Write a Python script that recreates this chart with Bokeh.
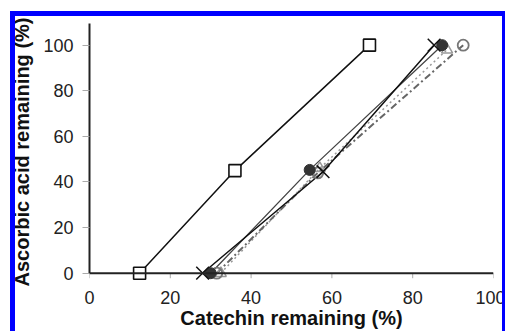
from bokeh.plotting import figure
from bokeh.models import Range1d, Span, Div
from bokeh.layouts import column
from bokeh.embed import file_html
from bokeh.resources import INLINE

# ---- data ----
x_ticks = [0, 20, 40, 60, 80, 100]
y_ticks = [0, 20, 40, 60, 80, 100]

sq_x = [12.4, 36.0, 69.3]
sq_y = [0, 45, 100]
cross_x = [28.0, 57.8, 85.3]
cross_y = [0, 44.5, 100]
dot_x = [30.0, 54.5, 87.3]
dot_y = [0, 45.3, 100]
ring_x = [31.5, 56.5, 92.5]
ring_y = [0, 44.0, 100]
tri_x = [32.5, 57.0, 88.5]
tri_y = [0, 46.0, 98.0]

FONT = "Liberation Sans"

p = figure(width=505, height=331, output_backend="svg", toolbar_location=None,
           x_range=Range1d(0, 100), y_range=Range1d(-3.2, 109.5),
           min_border_left=89, min_border_right=12, min_border_top=23,
           min_border_bottom=51)
p.grid.visible = False
p.outline_line_color = None
p.background_fill_color = "white"
p.border_fill_color = "white"

# axes
p.xaxis.ticker = x_ticks
p.yaxis.ticker = y_ticks
p.yaxis.bounds = (0, 110)
for ax in (p.xaxis[0], p.yaxis[0]):
    ax.axis_line_color = "#222222"
    ax.axis_line_width = 2
    ax.major_tick_line_color = "#aaaaaa"
    ax.major_tick_in = 0
    ax.minor_tick_line_color = None
    ax.major_label_text_font = FONT
    ax.major_label_text_font_size = "18px"
    ax.major_label_text_color = "#222222"
    ax.axis_label_text_font = FONT
    ax.axis_label_text_font_size = "20px"
    ax.axis_label_text_font_style = "bold"
    ax.axis_label_text_color = "#111111"
# bottom axis carries only labels; its line sits at y = 0 (drawn below)
p.xaxis.axis_line_color = None
p.xaxis.major_tick_line_color = None
p.xaxis.major_tick_out = 0
p.xaxis.major_label_standoff = 10
p.xaxis.axis_label = "Catechin remaining (%)"
p.xaxis.axis_label_standoff = 0
p.yaxis.major_tick_out = 7
p.yaxis.major_label_standoff = 9
p.yaxis.axis_label = "Ascorbic acid remaining (%)"
p.yaxis.axis_label_standoff = 7

# x-axis line at y = 0 and its small tick marks
tick_len = 2.2
p.segment(x0=x_ticks, y0=[0] * len(x_ticks), x1=x_ticks,
          y1=[-tick_len] * len(x_ticks), line_color="#aaaaaa", line_width=1)
p.add_layout(Span(location=0, dimension="width", line_color="#222222",
                  line_width=2))

# lines
p.line(tri_x, tri_y, line_color="#999999", line_width=1.5, line_dash="2 3")
p.line(ring_x, ring_y, line_color="#666666", line_width=2, line_dash="7 3 2 3")
p.line(dot_x, dot_y, line_color="#444444", line_width=1.3)
p.line(cross_x, cross_y, line_color="#111111", line_width=1.5)
p.line(sq_x, sq_y, line_color="#111111", line_width=1.5)

# markers
p.scatter(tri_x, tri_y, marker="triangle", size=11, line_color="#999999",
          fill_color=None, line_width=1.5)
p.scatter(ring_x, ring_y, marker="circle", size=11, line_color="#777777",
          fill_color=None, line_width=1.8)
p.scatter(dot_x, dot_y, marker="circle", size=11, line_color="#333333",
          fill_color="#333333")
p.scatter(cross_x, cross_y, marker="x", size=18, line_color="#111111",
          line_width=1.5)
p.scatter(sq_x, sq_y, marker="square", size=12, line_color="#111111",
          fill_color="white", line_width=1.6)

# blue frame drawn over the picture
frame = Div(text="", margin=0, styles={
    "position": "absolute", "left": "10px", "top": "11px",
    "width": "495px", "height": "320px", "box-sizing": "border-box",
    "border-left": "5px solid #0000ff", "border-top": "5px solid #0000ff",
    "border-right": "3px solid #0000ff", "border-bottom": "none",
    "z-index": "10", "pointer-events": "none",
})

layout = column(p, frame, spacing=0)
open("out.html", "w").write(file_html(layout, INLINE))
